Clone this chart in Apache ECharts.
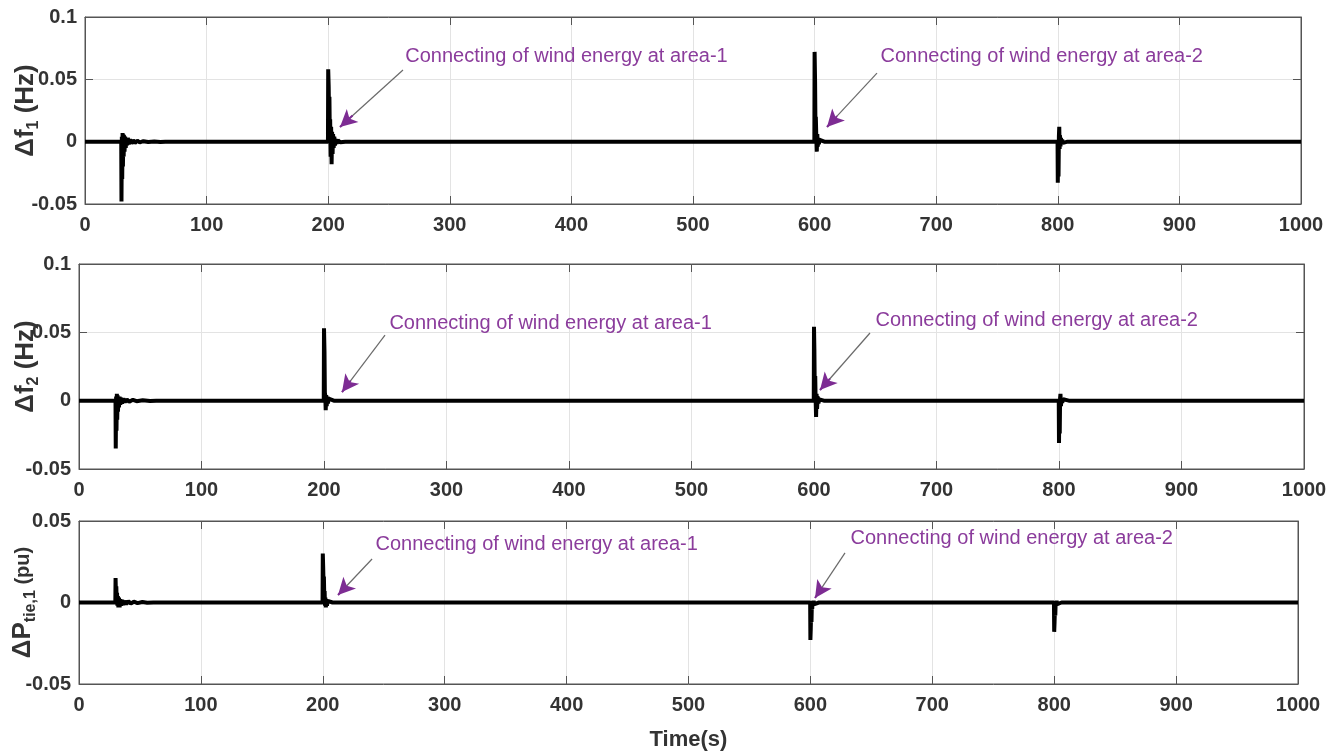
<!DOCTYPE html>
<html>
<head>
<meta charset="utf-8">
<script src="https://cdn.jsdelivr.net/npm/echarts@6/dist/echarts.min.js"></script>
<style>
html,body{margin:0;padding:0;background:#fff;}
#chart{width:1344px;height:755px;}
</style>
</head>
<body>
<div id="chart"></div>
<script>
// ---- data: [time (s), value] ----
const df1Data = [[0,0],[29.8,0],[30,-0.048],[30.3,0.004],[30.6,-0.030],[30.9,0.007],[31.2,-0.020],[31.5,0.006],[31.8,-0.012],[32.1,0.005],[32.5,-0.008],[33,0.004],[33.5,-0.005],[34,0.003],[34.6,-0.003],[35.2,0.003],[36,-0.002],[37,0.002],[38,-0.0015],[39.5,0.0012],[41,-0.001],[43,0.0008],[45,-0.0005],[48,0.0004],[52,-0.0003],[57,0.0002],[62,-0.0002],[66,0],
  [199.8,0],[200,0.058],[200.4,0.044],[200.7,0.020],[201,0.036],[201.3,0.008],[201.6,0.018],[202,-0.012],[202.4,0.012],[202.8,-0.018],[203.2,0.008],[203.6,-0.010],[204,0.006],[204.5,-0.005],[205,0.004],[205.6,-0.003],[206.3,0.002],[207,-0.0015],[208,0.001],[210,-0.0005],[214,0],
  [599.8,0],[600,0.072],[600.4,0.048],[600.7,0.012],[601,0.020],[601.4,0.004],[601.8,-0.008],[602.2,0.006],[602.6,-0.004],[603,0.003],[603.5,-0.002],[604.2,0.0015],[608,0],
  [799.8,0],[800,-0.033],[800.3,-0.005],[800.6,-0.028],[800.9,0.004],[801.2,0.012],[801.5,-0.006],[801.8,0.005],[802.2,-0.004],[802.6,0.003],[803,-0.002],[803.6,0.0015],[804.3,-0.001],[808,0],[1000,0]];

const df2Data = [[0,0],[29.8,0],[30,-0.035],[30.3,0.003],[30.6,-0.022],[30.9,0.005],[31.2,-0.014],[31.5,0.004],[31.8,-0.008],[32.2,0.003],[32.6,-0.005],[33.1,0.003],[33.7,-0.003],[34.4,0.002],[35.2,-0.002],[36.2,0.0015],[37.5,-0.001],[39,0.001],[41,-0.0008],[44,0.0006],[47,-0.0004],[52,0.0003],[58,-0.0002],[63,0],
  [199.8,0],[200,0.053],[200.4,0.036],[200.7,0.006],[201,0.004],[201.4,-0.007],[201.8,0.004],[202.2,-0.004],[202.7,0.003],[203.2,-0.002],[203.8,0.0015],[208,0],
  [599.8,0],[600,0.054],[600.3,0.038],[600.6,0.010],[601,0.018],[601.3,0.002],[601.7,-0.012],[602.1,0.005],[602.5,-0.006],[603,0.003],[603.6,-0.002],[604.4,0.001],[608,0],
  [799.8,0],[800,-0.031],[800.3,-0.004],[800.6,-0.024],[800.9,0.002],[801.2,0.005],[801.6,-0.004],[802,0.002],[802.6,-0.0015],[803.4,0.001],[808,0],[1000,0]];

const ptieData = [[0,0],[29.8,0],[30,0.015],[30.3,0.005],[30.6,0.010],[30.9,0.001],[31.2,0.006],[31.5,-0.002],[31.9,0.004],[32.3,-0.003],[32.8,0.003],[33.3,-0.003],[33.9,0.002],[34.6,-0.002],[35.4,0.0015],[36.3,-0.0015],[37.4,0.001],[38.8,-0.001],[40.5,0.0008],[42.5,-0.0006],[45,0.0005],[48,-0.0004],[52,0.0003],[56,-0.0002],[61,0],
  [199.8,0],[200,0.030],[200.3,0.022],[200.6,0.012],[200.9,0.016],[201.2,0.004],[201.5,0.007],[201.8,-0.002],[202.1,0.003],[202.5,-0.003],[202.9,0.002],[203.4,-0.002],[204,0.001],[208,0],
  [599.8,0],[600,-0.023],[600.3,-0.016],[600.6,-0.006],[600.9,-0.012],[601.2,-0.001],[601.5,-0.004],[601.8,0.001],[602.2,-0.002],[602.7,0.001],[603.3,-0.001],[607,0],
  [799.8,0],[800,-0.018],[800.3,-0.012],[800.6,-0.004],[800.9,-0.008],[801.2,0],[801.5,-0.002],[802,0.001],[802.5,-0.001],[806,0],[1000,0]];

const yRanges = [[-0.05, 0.1], [-0.05, 0.1], [-0.05, 0.05]];
const annText1 = 'Connecting of wind energy at area-1';
const annText2 = 'Connecting of wind energy at area-2';
// annotation anchors in data units: text start, arrow tail, arrow head
const annotations = [
  [{text: annText1, at: [263, 0.068], tail: [261.5, 0.0575], head: [209.7, 0.0118]},
   {text: annText2, at: [653.8, 0.068], tail: [651.3, 0.055], head: [610.2, 0.0118]}],
  [{text: annText1, at: [253, 0.0565], tail: [249.8, 0.048], head: [214.7, 0.0063]},
   {text: annText2, at: [649.8, 0.0585], tail: [645.7, 0.0495], head: [604.9, 0.0078]}],
  [{text: annText1, at: [242.8, 0.0353], tail: [240.4, 0.0267], head: [212.5, 0.0046]},
   {text: annText2, at: [632.5, 0.039], tail: [628.4, 0.0304], head: [603.8, 0.0028]}]
];

// ---- layout / style ----
const FF = '"Liberation Sans", Arial, sans-serif';
const grids = [
  {left: 85, top: 17, width: 1216, height: 187},
  {left: 79, top: 264, width: 1225, height: 205},
  {left: 79, top: 521, width: 1219, height: 163}
];
const yNameGaps = [43, 37, 40];
const yNames = [
  '{b|Δf}{s|1}{b| (Hz)}',
  '{b|Δf}{s|2}{b| (Hz)}',
  '{b|ΔP}{s|tie,1}{c| (pu)}'
];
const seriesData = [df1Data, df2Data, ptieData];

const labelStyle = {fontFamily: FF, fontWeight: 'bold', fontSize: 20, color: '#333'};
const tickStyle = {show: true, inside: true, length: 8, lineStyle: {color: '#555', width: 1}};

const option = {
  animation: false,
  backgroundColor: '#fff',
  grid: grids.map(g => Object.assign({show: true, borderColor: '#555', borderWidth: 1, backgroundColor: '#fff', containLabel: false, outerBoundsMode: 'none'}, g)),
  xAxis: [],
  yAxis: [],
  series: []
};

grids.forEach((g, i) => {
  option.xAxis.push({
    type: 'value', gridIndex: i, min: 0, max: 1000, interval: 100, position: 'bottom',
    axisLine: {show: true, onZero: false, lineStyle: {color: '#555'}},
    axisTick: tickStyle,
    axisLabel: Object.assign({margin: 11, formatter: v => String(v)}, labelStyle),
    splitLine: {show: true, lineStyle: {color: '#e3e3e3', width: 1}},
    name: i === 2 ? 'Time(s)' : '',
    nameLocation: 'middle', nameGap: 45, nameMoveOverlap: false,
    nameTextStyle: {fontFamily: FF, fontWeight: 'bold', fontSize: 22, color: '#333'}
  });
  option.xAxis.push({
    type: 'value', gridIndex: i, min: 0, max: 1000, interval: 100, position: 'top',
    axisLine: {show: true, onZero: false, lineStyle: {color: '#555'}},
    axisTick: tickStyle, axisLabel: {show: false}, splitLine: {show: false}
  });
  const r = yRanges[i];
  option.yAxis.push({
    type: 'value', gridIndex: i, min: r[0], max: r[1], interval: 0.05, position: 'left',
    axisLine: {show: true, onZero: false, lineStyle: {color: '#555'}},
    axisTick: tickStyle,
    axisLabel: Object.assign({margin: 8, formatter: v => String(+v.toFixed(3))}, labelStyle),
    splitLine: {show: true, lineStyle: {color: '#e3e3e3', width: 1}},
    name: yNames[i], nameLocation: 'middle', nameRotate: 90, nameGap: yNameGaps[i], nameMoveOverlap: false,
    nameTextStyle: {
      rich: {
        b: {fontFamily: FF, fontWeight: 'bold', fontSize: 26, color: '#333', lineHeight: 32, verticalAlign: 'middle'},
        c: {fontFamily: FF, fontWeight: 'bold', fontSize: 20, color: '#333', lineHeight: 32, verticalAlign: 'middle'},
        s: {fontFamily: FF, fontWeight: 'bold', fontSize: 16, color: '#333', lineHeight: 32, verticalAlign: 'bottom'}
      }
    }
  });
  option.yAxis.push({
    type: 'value', gridIndex: i, min: r[0], max: r[1], interval: 0.05, position: 'right',
    axisLine: {show: true, onZero: false, lineStyle: {color: '#555'}},
    axisTick: tickStyle, axisLabel: {show: false}, splitLine: {show: false}
  });

  const ann = annotations[i];
  const lineItems = [];
  ann.forEach(a => {
    lineItems.push([{coord: a.tail, symbol: 'none'}, {coord: a.head, symbol: 'none', lineStyle: {color: '#6a6a6a', width: 1.2}}]);
    const f = 0.2;
    const mid = [a.head[0] + f * (a.tail[0] - a.head[0]), a.head[1] + f * (a.tail[1] - a.head[1])];
    lineItems.push([{coord: mid, symbol: 'none'}, {coord: a.head, symbol: 'arrow', symbolSize: [13, 17], lineStyle: {color: '#7d2c93', width: 2}}]);
  });

  option.series.push({
    type: 'line', xAxisIndex: 2 * i, yAxisIndex: 2 * i,
    data: seriesData[i], showSymbol: false, symbol: 'none', smooth: false,
    lineStyle: {color: '#000', width: 4, join: 'bevel'},
    itemStyle: {color: '#000'},
    z: 3,
    markLine: {
      silent: true, animation: false, precision: 6,
      symbol: ['none', 'none'],
      label: {show: false},
      emphasis: {disabled: true},
      lineStyle: {type: 'solid', color: '#6a6a6a', width: 1.2},
      data: lineItems
    },
    markPoint: {
      silent: true, animation: false,
      symbol: 'rect', symbolSize: 1,
      itemStyle: {color: 'rgba(0,0,0,0)'},
      label: {show: true, position: 'right', distance: 0, fontFamily: FF, fontSize: 20, color: '#8b3c9c',
        formatter: p => p.name},
      data: ann.map(a => ({name: a.text, coord: a.at}))
    }
  });
});

const chart = echarts.init(document.getElementById('chart'), null, {renderer: 'canvas'});
chart.setOption(option);
</script>
</body>
</html>
